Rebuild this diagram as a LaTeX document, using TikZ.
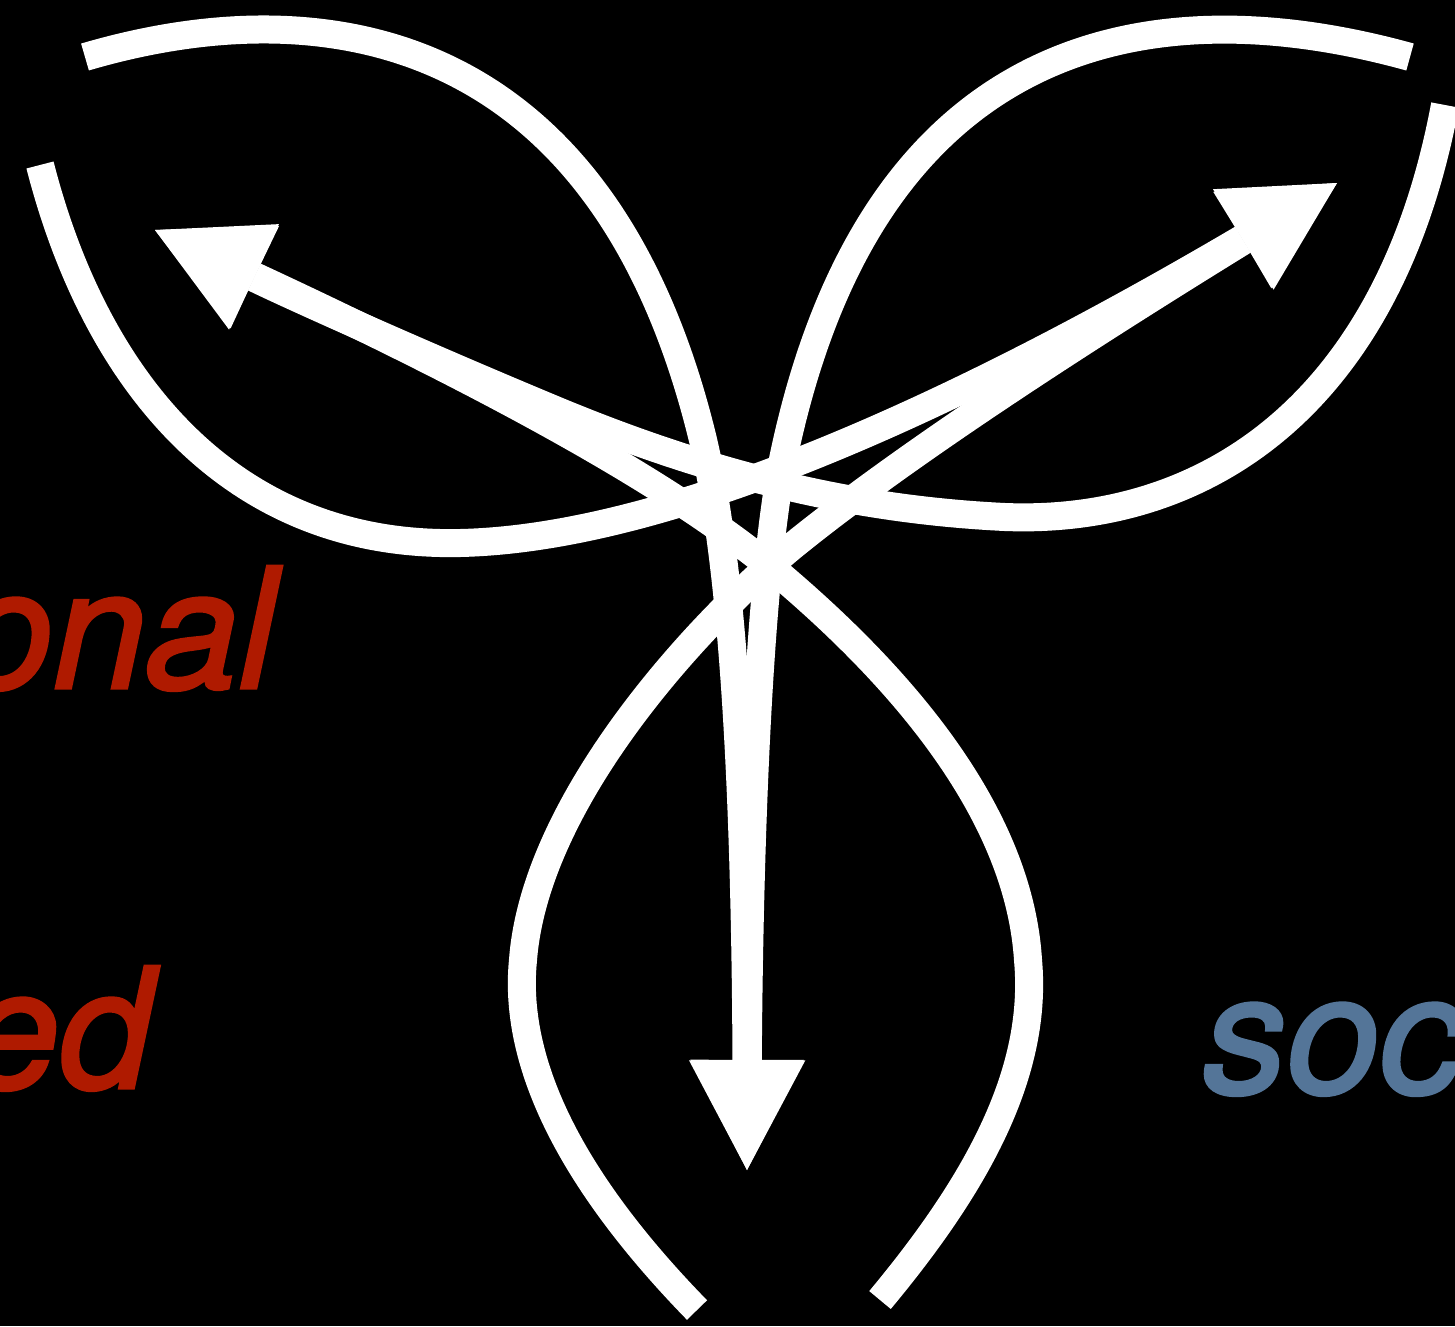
\documentclass[tikz,border=0pt]{standalone}
\usepackage{fontspec}
\newfontfamily\hel[ItalicFeatures={FakeBold=2}]{TeX Gyre Heros}
\usetikzlibrary{arrows.meta}
\definecolor{lblred}{RGB}{175,26,0}
\definecolor{lblblue}{RGB}{84,117,152}
\begin{document}
\begin{tikzpicture}[x=1pt,y=-1pt,
  stem/.style={white,line width=28pt,line cap=butt},
  arr/.style={stem,-{Triangle[length=110pt,width=115pt,line width=0pt]}},
  lbl/.style={font=\hel\itshape\fontsize{167}{167}\selectfont,inner sep=0pt}]
\fill[black] (0,0) rectangle (1455,1326);
\useasboundingbox (0,0) rectangle (1455,1326);
\clip (0,0) rectangle (1455,1326);
% leaf ends and arrow tips
\coordinate (tlA) at (85,57);
\coordinate (trB) at (1410,57);
\coordinate (tlC) at (40,165);
\coordinate (blD) at (697,1310);
\coordinate (brE) at (880,1300);
\coordinate (trF) at (1445,105);
\coordinate (tipDown) at (747,1170);
\coordinate (tipLeft) at (155,230);
\coordinate (tipRight) at (1337,183);
% curves
\draw[arr] (tlA) .. controls (330,-15) and (605,35) .. (703,440)
  .. controls (730,555) and (745,750) .. (tipDown);
\draw[arr] (trB) .. controls (1150,-15) and (875,35) .. (785,450)
  .. controls (765,540) and (750,750) .. (tipDown);
\draw[arr] (tlC) .. controls (95,380) and (230,548) .. (460,543)
  .. controls (640,539) and (900,440) .. (tipRight);
\draw[arr] (blD) .. controls (580,1190) and (512,1070) .. (523,960)
  .. controls (535,800) and (700,620) .. (800,540)
  .. controls (900,460) and (1050,360) .. (tipRight);
\draw[arr] (brE) .. controls (980,1180) and (1038,1070) .. (1028,960)
  .. controls (1018,800) and (880,660) .. (780,575)
  .. controls (680,490) and (500,390) .. (tipLeft);
\draw[arr] (trF) .. controls (1390,400) and (1210,525) .. (1005,517)
  .. controls (860,510) and (720,478) .. (560,412)
  .. controls (430,358) and (300,300) .. (tipLeft);
% labels
\node[lbl,text=lblred,anchor=base east] (onal) at (276,688) {onal};
\node[lbl,text=lblred,anchor=base east] (ed) at (152,1088) {ed};
\node[lbl,text=lblblue,anchor=base west] (soc) at (1203,1093) {soc};
\end{tikzpicture}
\end{document}
